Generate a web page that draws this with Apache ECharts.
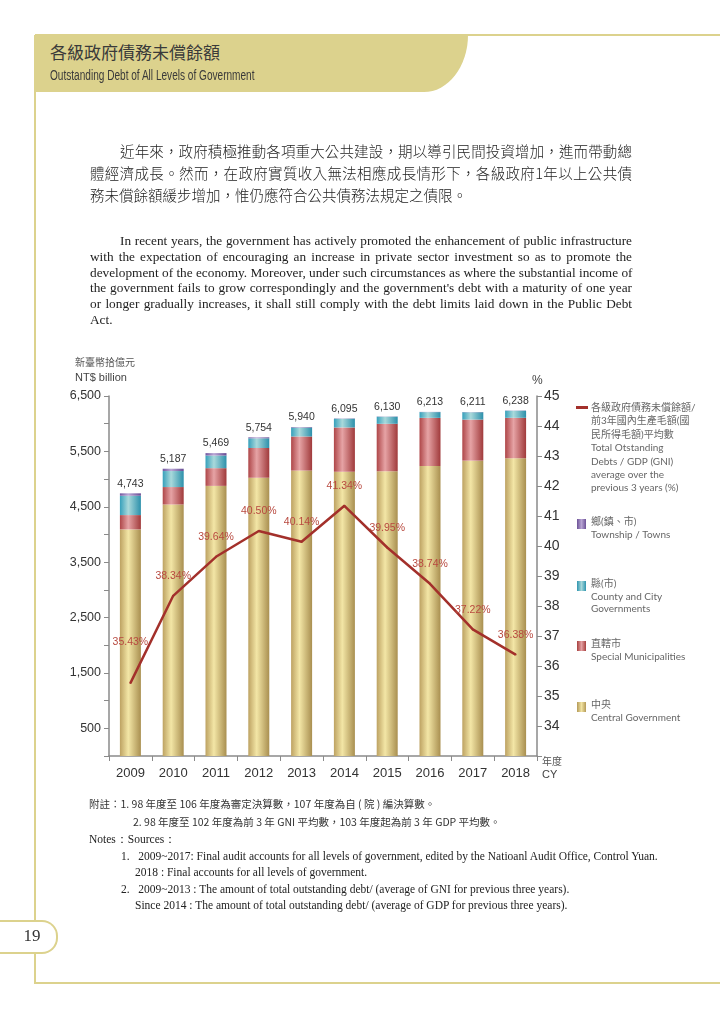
<!DOCTYPE html>
<html><head><meta charset="utf-8">
<script src="https://cdn.jsdelivr.net/npm/echarts@6/dist/echarts.min.js"></script>
<style>
html,body{margin:0;padding:0;background:#fff;}
#page{position:relative;width:720px;height:1018px;overflow:hidden;background:#fff;}
#chart{position:absolute;left:0;top:0;width:720px;height:1018px;}
.a{position:absolute;white-space:nowrap;}
.gold{background:#dcd28d;}
.zh{font-family:"Noto Sans CJK TC","Noto Sans CJK SC",sans-serif;color:#333;}
.en{font-family:"Liberation Serif","Times New Roman",serif;color:#222;}
.jl{text-align:justify;text-align-last:justify;white-space:nowrap;}
</style></head>
<body><div id="page">
<div id="chart"></div>
<!-- page decorations -->
<div class="a gold" style="left:35px;top:35px;width:433px;height:57px;border-bottom-right-radius:44px 57px;"></div>
<div class="a gold" style="left:35px;top:34px;width:685px;height:2px;"></div>
<div class="a gold" style="left:34px;top:35px;width:2px;height:949px;"></div>
<div class="a gold" style="left:34px;top:982px;width:686px;height:2px;"></div>
<div class="a zh" style="left:50px;top:41px;font-size:17px;line-height:22px;color:#3a3a3a;">各級政府債務未償餘額</div>
<div class="a" style="left:50px;top:66px;font-family:'Liberation Sans Narrow','Liberation Sans',sans-serif;font-size:14px;line-height:18px;color:#3a3a3a;transform:scaleX(0.72);transform-origin:left center;">Outstanding Debt of All Levels of Government</div>
<div class="a" style="left:-2px;top:920px;width:58px;height:30px;border:2px solid #dcd28d;border-left:none;border-radius:0 16px 16px 0;background:#fff;"></div>
<div class="a en" style="left:0px;top:925px;width:64px;text-align:center;font-size:17px;line-height:22px;color:#333;">19</div>

<!-- Chinese paragraph -->
<div class="a zh" style="left:90px;top:140px;width:542px;font-size:14.5px;line-height:22px;font-weight:300;color:#222;">
<div class="jl" style="padding-left:30px;">近年來，政府積極推動各項重大公共建設，期以導引民間投資增加，進而帶動總</div>
<div class="jl">體經濟成長。然而，在政府實質收入無法相應成長情形下，各級政府1年以上公共債</div>
<div>務未償餘額緩步增加，惟仍應符合公共債務法規定之債限。</div>
</div>
<!-- English paragraph -->
<div class="a en" style="left:90px;top:233px;width:542px;font-size:13.3px;line-height:15.8px;">
<div class="jl" style="padding-left:30px;">In recent years, the government has actively promoted the enhancement of public infrastructure</div>
<div class="jl">with the expectation of encouraging an increase in private sector investment so as to promote the</div>
<div class="jl">development of the economy. Moreover, under such circumstances as where the substantial income of</div>
<div class="jl">the government fails to grow correspondingly and the government's debt with a maturity of one year</div>
<div class="jl">or longer gradually increases, it shall still comply with the debt limits laid down in the Public Debt</div>
<div>Act.</div>
</div>
<!-- Notes -->
<div class="a zh" style="left:89px;top:797px;font-size:10.5px;line-height:14px;color:#333;">附註：1. 98 年度至 106 年度為審定決算數，107 年度為自 ( 院 ) 編決算數。</div>
<div class="a zh" style="left:133px;top:815px;font-size:10.5px;line-height:14px;color:#333;">2. 98 年度至 102 年度為前 3 年 GNI 平均數，103 年度起為前 3 年 GDP 平均數。</div>
<div class="a en" style="left:89px;top:832px;font-size:11.5px;line-height:14px;">Notes：Sources：</div>
<div class="a en" style="left:121px;top:849px;font-size:11.5px;line-height:14px;">1.&nbsp;&nbsp;&nbsp;2009~2017: Final audit accounts for all levels of government, edited by the Natioanl Audit Office, Control Yuan.</div>
<div class="a en" style="left:135px;top:865px;font-size:11.5px;line-height:14px;">2018 : Final accounts for all levels of government.</div>
<div class="a en" style="left:121px;top:882px;font-size:11.5px;line-height:14px;">2.&nbsp;&nbsp;&nbsp;2009~2013 : The amount of total outstanding debt/ (average of GNI for previous three years).</div>
<div class="a en" style="left:135px;top:898px;font-size:11.5px;line-height:14px;">Since 2014 : The amount of total outstanding debt/ (average of GDP for previous three years).</div>
</div>
<script>
// ---- data ----
const years = ['2009','2010','2011','2012','2013','2014','2015','2016','2017','2018'];
const central = [4091, 4541, 4877, 5024, 5154, 5131, 5143, 5237, 5333, 5376];
const municipal = [259, 315, 320, 537, 615, 801, 855, 868, 741, 730];
const county = [349, 289, 228, 175, 161, 158, 128, 104, 133, 128];
const township = [44, 42, 44, 18, 10, 5, 4, 4, 4, 4];
const totals = [4743, 5187, 5469, 5754, 5940, 6095, 6130, 6213, 6211, 6238];
const ratio = [35.43, 38.34, 39.64, 40.50, 40.14, 41.34, 39.95, 38.74, 37.22, 36.38];

const chart = echarts.init(document.getElementById('chart'));
const G = echarts.graphic.LinearGradient;
function cyl(d1, l, d2){ return new G(0,0,1,0,[{offset:0,color:d1},{offset:0.4,color:l},{offset:1,color:d2}]); }
const cGold = cyl('#bda262','#f3e6a6','#a98f50');
const cRed = cyl('#ae4648','#e6a3a5','#a03a3b');
const cTeal = cyl('#36a0bb','#a9d9db','#2c90ab');
const cPurp = cyl('#7257a0','#bba8d6','#674c94');
const lineColor = '#a3302b';
const axisCol = '#8a8a8a';
const sans = 'Liberation Sans, Arial, sans-serif';
const legFont = 'Lato, "Noto Sans CJK TC", sans-serif';

function barSeries(name, data, color){
  return {name, type:'bar', stack:'debt', data, barWidth:21, itemStyle:{color}, yAxisIndex:0};
}
const sTown = barSeries('鄉(鎮、市)', township, cPurp);
sTown.label = {show:true, position:'top', distance:4, color:'#333', fontSize:10.5, fontFamily:sans,
  formatter: p => totals[p.dataIndex].toLocaleString('en-US')};

// first ratio label sits higher above its point in the reference
const ratioData = ratio.map((v, i) => i === 0 ? {value: v, label: {distance: 34}} : v);

function legendBlock(y, color, txt, ty){
  return [
    {type:'rect', shape:{x:577, y:y, width:9, height:10}, style:{fill:color}},
    {type:'text', x:591, y:ty, style:{text:txt, fill:'#666', font:'10px '+legFont, lineHeight:12.5, verticalAlign:'top'}}
  ];
}
function sq(c1,c2){ return new G(0,0,1,0,[{offset:0,color:c1},{offset:0.5,color:c2},{offset:1,color:c1}]); }

const option = {
  backgroundColor:'transparent',
  animation:false,
  grid:{left:109, right:183, top:396, bottom:262},
  xAxis:{type:'category', data:years,
    axisLine:{lineStyle:{color:axisCol, width:1.5}},
    axisTick:{show:true, length:5, lineStyle:{color:axisCol}},
    axisLabel:{color:'#333', fontSize:13, fontFamily:sans, margin:11}},
  yAxis:[
    {type:'value', min:0, max:6500, interval:500,
     axisLine:{show:true, lineStyle:{color:axisCol, width:1.5}},
     axisTick:{show:true, length:5, lineStyle:{color:axisCol}},
     splitLine:{show:false},
     axisLabel:{color:'#333', fontSize:12.5, fontFamily:sans, margin:8,
       formatter: v => (v % 1000 === 500) ? v.toLocaleString('en-US') : ''}},
    {type:'value', min:33, max:45, interval:1, position:'right',
     axisLine:{show:true, lineStyle:{color:axisCol, width:1.5}},
     axisTick:{show:true, length:5, lineStyle:{color:axisCol}},
     splitLine:{show:false},
     axisLabel:{color:'#333', fontSize:14, fontFamily:sans, margin:7,
       formatter: v => v === 33 ? '' : String(v)}}
  ],
  series:[
    barSeries('中央', central, cGold),
    barSeries('直轄市', municipal, cRed),
    barSeries('縣(市)', county, cTeal),
    sTown,
    {name:'ratio', type:'line', yAxisIndex:1, data:ratioData, symbol:'circle', symbolSize:2, showSymbol:true, z:5,
     itemStyle:{color:lineColor},
     lineStyle:{color:lineColor, width:2.5},
     label:{show:true, position:'top', distance:13, color:'#b8493f', fontSize:10.5, fontFamily:sans,
       formatter: p => Number(p.value).toFixed(2) + '%'}}
  ],
  graphic:[
    {type:'text', x:75, y:357, style:{text:'新臺幣拾億元', fill:'#555', font:'10px "Noto Sans CJK TC"', verticalAlign:'top'}},
    {type:'text', x:75, y:372, style:{text:'NT$ billion', fill:'#444', font:'11px '+sans, verticalAlign:'top'}},
    {type:'text', x:532, y:375, style:{text:'%', fill:'#444', font:'12px '+sans, verticalAlign:'top'}},
    {type:'text', x:542, y:756, style:{text:'年度', fill:'#555', font:'10px "Noto Sans CJK TC"', verticalAlign:'top'}},
    {type:'text', x:542, y:769, style:{text:'CY', fill:'#444', font:'11px '+sans, verticalAlign:'top'}},
    {type:'rect', shape:{x:576, y:406, width:12, height:3}, style:{fill:lineColor}},
    {type:'text', x:591, y:401, style:{text:'各級政府債務未償餘額/\n前3年國內生產毛額(國\n民所得毛額)平均數\nTotal Otstanding\nDebts / GDP (GNI)\naverage over the\nprevious 3 years (%)', fill:'#666', font:'10px '+legFont, lineHeight:13.4, verticalAlign:'top'}},
    ...legendBlock(519, sq('#6d5297','#b7a4d3'), '鄉(鎮、市)\nTownship / Towns', 516),
    ...legendBlock(581, sq('#2f95af','#a6d7da'), '縣(市)\nCounty and City\nGovernments', 578),
    ...legendBlock(641, sq('#a7403f','#e3a0a2'), '直轄市\nSpecial Municipalities', 638),
    ...legendBlock(702, sq('#b49a58','#f1e3a2'), '中央\nCentral Government', 699)
  ]
};
chart.setOption(option);
</script>
</body></html>
